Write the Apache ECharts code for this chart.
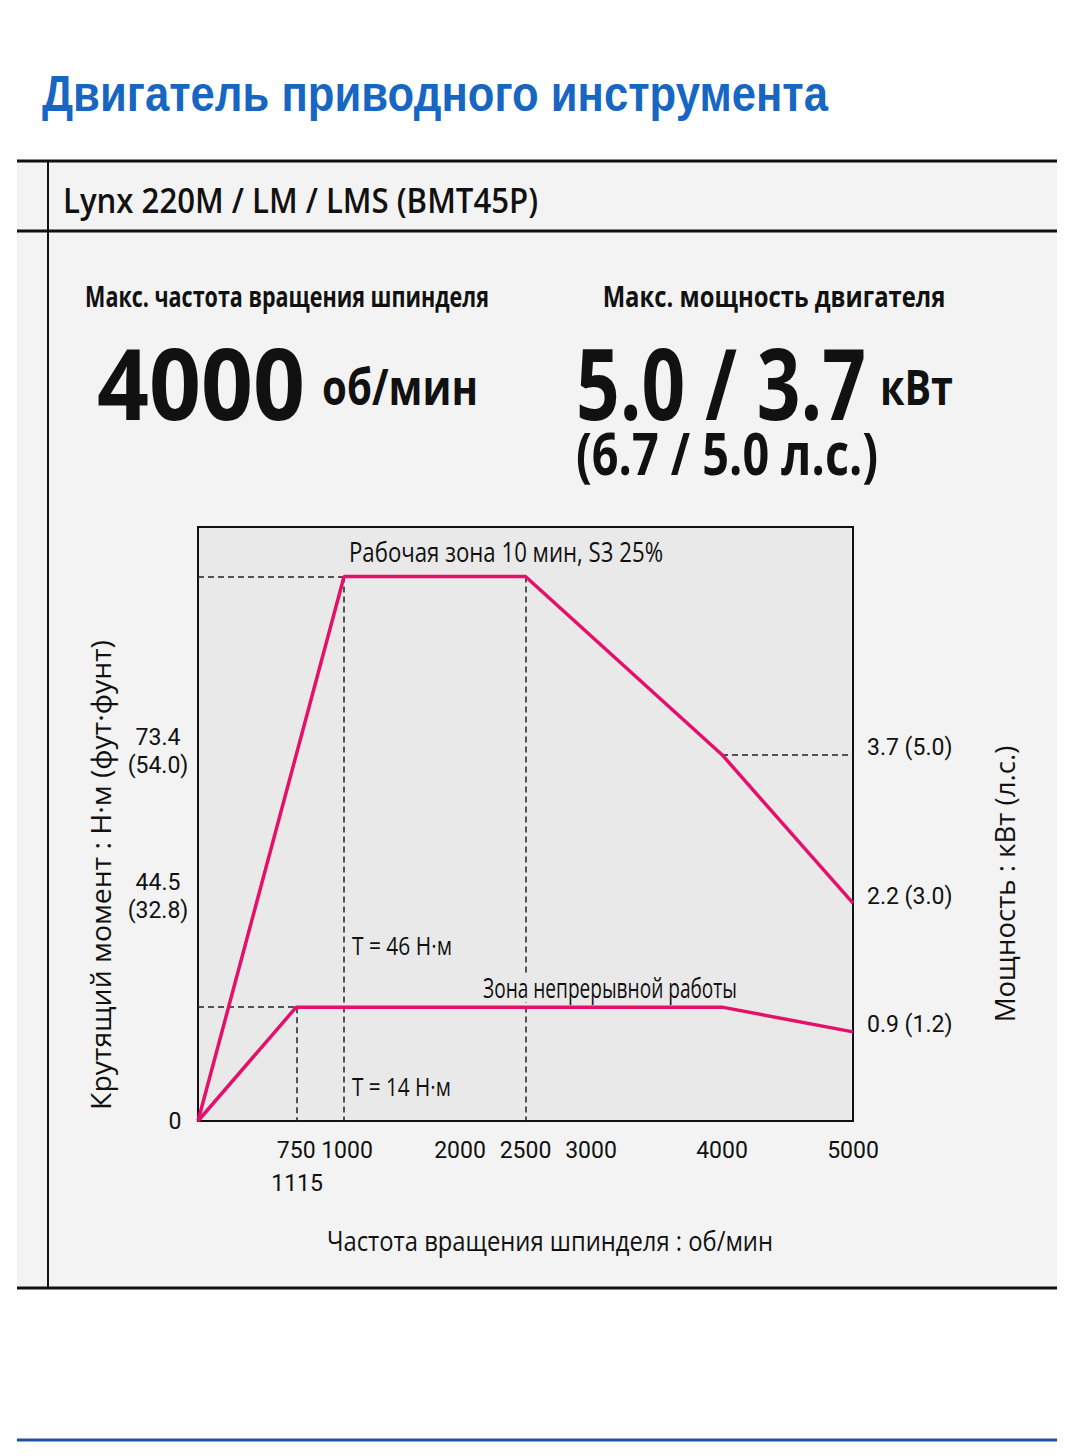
<!DOCTYPE html>
<html>
<head>
    <meta charset="utf-8">
    <title>Двигатель приводного инструмента</title>
    <script src="https://cdn.jsdelivr.net/npm/echarts@6/dist/echarts.min.js"></script>
    <style>
        html, body {margin: 0; padding: 0; background: #fff;}
        #chartmain {width: 1080px; height: 1456px;}
    </style>
</head>
<body>
<div id="chartmain"></div>
<script>
    // кривые мощности (кВт) по частоте вращения (об/мин)
    var rpmS3 = [0, 1115, 2500, 4000, 5000];
    var kwS3 = [0, 5.5, 5.5, 3.7, 2.2];
    var rpmCont = [0, 750, 4000, 5000];
    var kwCont = [0, 1.15, 1.15, 0.9];

    // подписи осей
    var xTicks = [750, 2000, 2500, 3000, 4000, 5000];
    var xTickShifted = [1000];
    var xTickSecondRow = [1115];
    var powerTicks = [0.9, 2.2, 3.7];
    var powerHp = ['1.2', '3.0', '5.0'];
    var torqueTicks = [0, 44.5, 73.4];
    var torqueFtLb = ['', '32.8', '54.0'];

    var SANS = '"Open Sans", "Noto Sans", sans-serif';
    var TICK = 'Roboto, "Noto Sans", sans-serif';
    var PINK = '#e5106a';
    var PLOT_BG = '#e9e9e9';

    function pairs(xs, ys) {
        var out = [];
        for (var i = 0; i < xs.length; i++) out.push([xs[i], ys[i]]);
        return out;
    }

    // сжатие текста по ширине (в исходнике узкий шрифт)
    var ctx = document.createElement('canvas').getContext('2d');
    function txt(x, y, s, font, align, width, extra) {
        ctx.font = font;
        var w = ctx.measureText(s).width;
        var el = {
            type: 'text', x: x, y: y, z: 20,
            scaleX: width ? width / w : 1,
            style: {text: s, x: 0, y: 0, fill: '#111', font: font, align: align || 'left', verticalAlign: 'middle'}
        };
        if (extra) for (var k in extra) el[k] = extra[k];
        return el;
    }

    function rpmAxis(values, margin, pad) {
        return {
            type: 'value', min: 0, max: 5000, gridIndex: 0, position: 'bottom',
            axisLine: {show: false}, axisTick: {show: false}, splitLine: {show: false},
            axisLabel: {
                customValues: values, hideOverlap: false, showMinLabel: true, showMaxLabel: true,
                margin: margin, color: '#111',
                formatter: function (v) { return '{t|' + v + '}'; },
                rich: {t: {fontFamily: TICK, fontSize: 23, color: '#111', padding: pad}}
            }
        };
    }

    var dash = {color: '#222', width: 1.5, type: [6, 4]};
    // пунктирные выноски от точек излома
    var guides = [
        [{coord: [0, kwS3[1]]}, {coord: [rpmS3[1], kwS3[1]]}],
        [{coord: [rpmS3[1], kwS3[1]]}, {coord: [rpmS3[1], 0]}],
        [{coord: [rpmS3[2], kwS3[2]]}, {coord: [rpmS3[2], 0]}],
        [{coord: [rpmS3[3], kwS3[3]]}, {coord: [5000, kwS3[3]]}],
        [{coord: [0, kwCont[1]]}, {coord: [rpmCont[1], kwCont[1]]}],
        [{coord: [rpmCont[1], kwCont[1]]}, {coord: [rpmCont[1], 0]}]
    ];

    var title = txt(42, 94, 'Двигатель приводного инструмента', 'bold 50px "Liberation Sans", Arial, sans-serif', 'left', 786);
    title.style.fill = '#1767c2';

    var option = {
        backgroundColor: '#ffffff',
        animation: false,
        grid: {
            left: 198, top: 527, width: 655, height: 594,
            show: true, backgroundColor: PLOT_BG, borderColor: '#111', borderWidth: 2
        },
        xAxis: [
            rpmAxis(xTicks, 18, [0, 0, 0, 0]),
            rpmAxis(xTickShifted, 18, [0, 0, 0, 36]),
            rpmAxis(xTickSecondRow, 51, [0, 94, 0, 0])
        ],
        yAxis: [
            {
                type: 'value', min: 0, max: 6, position: 'right',
                axisLine: {show: false}, axisTick: {show: false}, splitLine: {show: false},
                axisLabel: {
                    customValues: powerTicks, hideOverlap: false, showMinLabel: true, showMaxLabel: true,
                    margin: 14, color: '#111',
                    formatter: function (v) {
                        return '{p|' + v.toFixed(1) + ' (' + powerHp[powerTicks.indexOf(v)] + ')}';
                    },
                    rich: {
                        p: {fontFamily: TICK, fontSize: 23, color: '#111', padding: [0, 0, 14, 0]}
                    }
                }
            },
            {
                type: 'value', min: 0, max: 118, position: 'left',
                axisLine: {show: false}, axisTick: {show: false}, splitLine: {show: false},
                axisLabel: {
                    customValues: torqueTicks, hideOverlap: false, showMinLabel: true, showMaxLabel: true,
                    margin: 40, align: 'center', color: '#111',
                    fontFamily: TICK, fontSize: 23, lineHeight: 28,
                    formatter: function (v) {
                        var i = torqueTicks.indexOf(v);
                        if (v === 0) return '{z|0}';
                        return v.toFixed(1) + '\n(' + torqueFtLb[i] + ')';
                    },
                    rich: {
                        z: {fontFamily: TICK, fontSize: 23, color: '#111', padding: [0, 0, 0, 34]}
                    }
                }
            }
        ],
        series: [
            {
                name: 'S3 25%', type: 'line', xAxisIndex: 0, yAxisIndex: 0,
                data: pairs(rpmS3, kwS3), symbol: 'none',
                lineStyle: {color: PINK, width: 3.5}, z: 5,
                markLine: {
                    silent: true, symbol: 'none', label: {show: false},
                    lineStyle: dash, data: guides
                }
            },
            {
                name: 'Непрерывная', type: 'line', xAxisIndex: 0, yAxisIndex: 0,
                data: pairs(rpmCont, kwCont), symbol: 'none',
                lineStyle: {color: PINK, width: 3.5}, z: 5
            }
        ],
        graphic: [
            // рамка таблицы
            {type: 'rect', shape: {x: 17, y: 161, width: 1040, height: 1127}, style: {fill: '#f3f3f3'}, z: -10},
            {type: 'line', shape: {x1: 17, y1: 161, x2: 1057, y2: 161}, style: {stroke: '#111', lineWidth: 3}, z: 10},
            {type: 'line', shape: {x1: 17, y1: 231, x2: 1057, y2: 231}, style: {stroke: '#111', lineWidth: 3}, z: 10},
            {type: 'line', shape: {x1: 17, y1: 1288, x2: 1057, y2: 1288}, style: {stroke: '#111', lineWidth: 3}, z: 10},
            {type: 'line', shape: {x1: 48, y1: 161, x2: 48, y2: 1288}, style: {stroke: '#111', lineWidth: 2}, z: 10},
            {type: 'line', shape: {x1: 17, y1: 1440, x2: 1057, y2: 1440}, style: {stroke: '#1d52a3', lineWidth: 3}, z: 10},

            title,
            txt(63, 200, 'Lynx 220M / LM / LMS (BMT45P)', '600 34px ' + SANS, 'left', 475),
            txt(287, 296, 'Макс. частота вращения шпинделя', 'bold 28px ' + SANS, 'center', 404),
            txt(774, 296, 'Макс. мощность двигателя', 'bold 28px ' + SANS, 'center', 343),
            txt(97, 382, '4000', 'bold 98px ' + SANS, 'left', 208),
            txt(322, 386, 'об/мин', 'bold 50px ' + SANS, 'left', 156),
            txt(576, 382, '5.0 / 3.7', 'bold 98px ' + SANS, 'left', 290),
            txt(880, 386, 'кВт', 'bold 48px ' + SANS, 'left', 73),
            txt(576, 452, '(6.7 / 5.0 л.с.)', 'bold 60px ' + SANS, 'left', 302),

            // подписи внутри графика (подложка скрывает пунктир под текстом)
            txt(506, 552, 'Рабочая зона 10 мин, S3 25%', '27px ' + SANS, 'center', 314),
            txt(352, 945, 'T = 46 Н·м', '25px ' + SANS, 'left', 100),
            {type: 'rect', shape: {x: 480, y: 975, width: 260, height: 27}, style: {fill: PLOT_BG}, z: 15},
            txt(610, 988, 'Зона непрерывной работы', '27px ' + SANS, 'center', 254),
            txt(352, 1086, 'T = 14 Н·м', '25px ' + SANS, 'left', 99),

            // названия осей
            txt(550, 1240, 'Частота вращения шпинделя : об/мин', '27px ' + SANS, 'center', 446),
            txt(100, 875, 'Крутящий момент : Н·м (фут·фунт)', '27px ' + SANS, 'center', 470, {rotation: Math.PI / 2}),
            txt(1005, 884, 'Мощность : кВт (л.с.)', '27px ' + SANS, 'center', 277, {rotation: Math.PI / 2})
        ]
    };

    var myChart = echarts.init(document.getElementById('chartmain'), null, {renderer: 'svg'});
    myChart.setOption(option);
</script>
</body>
</html>
